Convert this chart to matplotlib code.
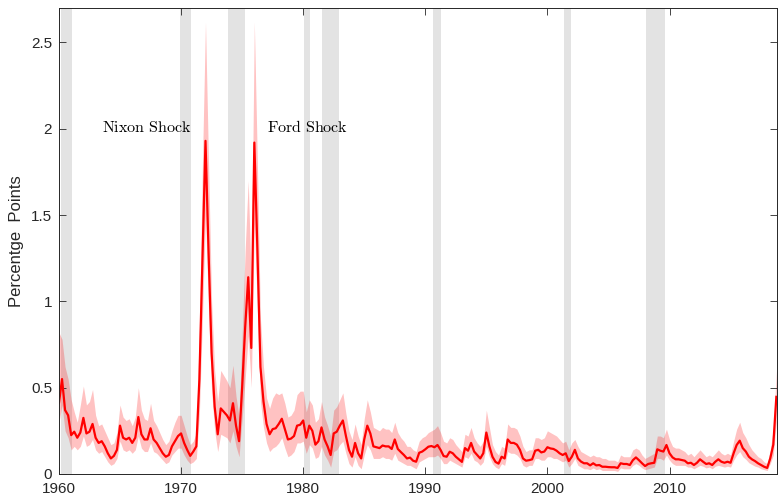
import numpy as np
import matplotlib

matplotlib.use("Agg")
import matplotlib.pyplot as plt

# quarterly observations, 1960Q1 .. 2018Q4
START_YEAR = 1960.0

central = [
    0.41, 0.55, 0.37, 0.34, 0.225, 0.245, 0.21, 0.24, 0.325, 0.235,
    0.245, 0.29, 0.21, 0.18, 0.19, 0.16, 0.12, 0.09, 0.105, 0.14,
    0.28, 0.21, 0.20, 0.21, 0.18, 0.21, 0.33, 0.23, 0.20, 0.20,
    0.265, 0.20, 0.18, 0.15, 0.12, 0.10, 0.11, 0.16, 0.19, 0.22,
    0.235, 0.18, 0.14, 0.105, 0.13, 0.16, 0.55, 1.25, 1.93, 1.29,
    0.70, 0.39, 0.23, 0.38, 0.36, 0.34, 0.31, 0.41, 0.28, 0.19,
    0.50, 0.85, 1.14, 0.73, 1.92, 1.30, 0.62, 0.42, 0.29, 0.23,
    0.26, 0.265, 0.29, 0.32, 0.26, 0.20, 0.205, 0.22, 0.28, 0.285,
    0.31, 0.21, 0.28, 0.25, 0.17, 0.19, 0.27, 0.20, 0.16, 0.11,
    0.235, 0.245, 0.28, 0.31, 0.22, 0.14, 0.10, 0.18, 0.12, 0.09,
    0.20, 0.28, 0.235, 0.16, 0.155, 0.15, 0.165, 0.16, 0.16, 0.145,
    0.20, 0.145, 0.127, 0.11, 0.09, 0.095, 0.077, 0.071, 0.123, 0.13,
    0.143, 0.158, 0.162, 0.155, 0.168, 0.14, 0.104, 0.10, 0.129, 0.12,
    0.10, 0.085, 0.07, 0.15, 0.135, 0.18, 0.13, 0.11, 0.09, 0.12,
    0.24, 0.16, 0.10, 0.07, 0.06, 0.10, 0.09, 0.20, 0.18, 0.18,
    0.17, 0.14, 0.09, 0.077, 0.08, 0.085, 0.135, 0.14, 0.125, 0.13,
    0.155, 0.148, 0.145, 0.135, 0.12, 0.11, 0.12, 0.075, 0.10, 0.14,
    0.09, 0.072, 0.062, 0.062, 0.05, 0.062, 0.05, 0.052, 0.042, 0.042,
    0.04, 0.039, 0.039, 0.035, 0.062, 0.058, 0.058, 0.052, 0.08, 0.096,
    0.08, 0.062, 0.046, 0.058, 0.062, 0.065, 0.143, 0.135, 0.13, 0.168,
    0.12, 0.096, 0.085, 0.085, 0.081, 0.077, 0.062, 0.065, 0.052, 0.065,
    0.085, 0.071, 0.058, 0.062, 0.052, 0.071, 0.085, 0.071, 0.065, 0.071,
    0.065, 0.12, 0.168, 0.193, 0.15, 0.13, 0.10, 0.085, 0.075, 0.062,
    0.052, 0.042, 0.035, 0.09, 0.17, 0.447,
]

upper = [
    0.82, 0.78, 0.62, 0.55, 0.43, 0.36, 0.30, 0.40, 0.51, 0.40,
    0.42, 0.49, 0.34, 0.28, 0.29, 0.25, 0.21, 0.17, 0.18, 0.24,
    0.40, 0.33, 0.31, 0.32, 0.28, 0.33, 0.50, 0.37, 0.32, 0.31,
    0.41, 0.31, 0.28, 0.24, 0.20, 0.17, 0.19, 0.25, 0.30, 0.34,
    0.34, 0.28, 0.22, 0.17, 0.19, 0.24, 0.85, 1.80, 2.62, 1.80,
    1.00, 0.60, 0.42, 0.60, 0.57, 0.54, 0.50, 0.63, 0.45, 0.33,
    0.80, 1.30, 1.70, 1.10, 2.62, 1.80, 0.90, 0.62, 0.44, 0.38,
    0.44, 0.47, 0.46, 0.47, 0.41, 0.33, 0.34, 0.37, 0.46, 0.48,
    0.48, 0.36, 0.43, 0.40, 0.30, 0.32, 0.42, 0.33, 0.28, 0.22,
    0.37, 0.39, 0.43, 0.47, 0.35, 0.25, 0.20, 0.29, 0.22, 0.17,
    0.32, 0.43, 0.36, 0.27, 0.26, 0.25, 0.27, 0.26, 0.26, 0.24,
    0.30, 0.24, 0.21, 0.19, 0.16, 0.16, 0.14, 0.13, 0.19, 0.21,
    0.22, 0.24, 0.25, 0.26, 0.28, 0.24, 0.19, 0.18, 0.21, 0.20,
    0.17, 0.15, 0.13, 0.23, 0.22, 0.27, 0.21, 0.18, 0.16, 0.19,
    0.37, 0.27, 0.17, 0.13, 0.11, 0.16, 0.15, 0.29, 0.27, 0.27,
    0.26, 0.22, 0.16, 0.13, 0.14, 0.14, 0.21, 0.21, 0.20, 0.21,
    0.25, 0.24, 0.23, 0.22, 0.20, 0.18, 0.19, 0.14, 0.18, 0.20,
    0.16, 0.13, 0.12, 0.11, 0.10, 0.11, 0.10, 0.10, 0.09, 0.09,
    0.08, 0.08, 0.08, 0.07, 0.11, 0.10, 0.10, 0.10, 0.14, 0.15,
    0.14, 0.11, 0.09, 0.10, 0.11, 0.12, 0.22, 0.22, 0.21, 0.26,
    0.20, 0.16, 0.15, 0.15, 0.14, 0.13, 0.11, 0.12, 0.10, 0.12,
    0.14, 0.12, 0.10, 0.11, 0.10, 0.12, 0.14, 0.12, 0.11, 0.12,
    0.11, 0.19, 0.26, 0.30, 0.24, 0.21, 0.17, 0.14, 0.12, 0.10,
    0.09, 0.07, 0.06, 0.14, 0.26, 0.60,
]

lower = [
    0.30, 0.40, 0.25, 0.21, 0.14, 0.16, 0.14, 0.16, 0.22, 0.16,
    0.17, 0.20, 0.14, 0.12, 0.13, 0.10, 0.07, 0.05, 0.06, 0.09,
    0.19, 0.14, 0.13, 0.14, 0.12, 0.14, 0.22, 0.15, 0.13, 0.13,
    0.18, 0.13, 0.12, 0.10, 0.08, 0.06, 0.07, 0.11, 0.13, 0.15,
    0.15, 0.11, 0.08, 0.06, 0.07, 0.09, 0.35, 0.90, 1.50, 0.95,
    0.48, 0.25, 0.13, 0.23, 0.22, 0.21, 0.18, 0.25, 0.16, 0.10,
    0.32, 0.55, 0.80, 0.50, 1.45, 0.95, 0.42, 0.27, 0.18, 0.13,
    0.15, 0.16, 0.18, 0.21, 0.15, 0.10, 0.11, 0.13, 0.18, 0.18,
    0.19, 0.12, 0.17, 0.15, 0.09, 0.10, 0.16, 0.11, 0.08, 0.04,
    0.13, 0.14, 0.17, 0.19, 0.12, 0.06, 0.04, 0.10, 0.05, 0.03,
    0.11, 0.17, 0.14, 0.09, 0.09, 0.09, 0.10, 0.09, 0.09, 0.08,
    0.12, 0.08, 0.07, 0.06, 0.05, 0.05, 0.04, 0.03, 0.07, 0.08,
    0.09, 0.10, 0.10, 0.10, 0.11, 0.09, 0.06, 0.06, 0.08, 0.07,
    0.06, 0.05, 0.04, 0.10, 0.09, 0.12, 0.08, 0.07, 0.05, 0.07,
    0.16, 0.10, 0.06, 0.04, 0.03, 0.06, 0.05, 0.13, 0.12, 0.12,
    0.11, 0.09, 0.05, 0.04, 0.05, 0.05, 0.09, 0.09, 0.08, 0.08,
    0.10, 0.10, 0.09, 0.09, 0.08, 0.07, 0.08, 0.04, 0.06, 0.09,
    0.05, 0.04, 0.03, 0.03, 0.025, 0.035, 0.025, 0.03, 0.02, 0.02,
    0.02, 0.02, 0.02, 0.015, 0.035, 0.03, 0.03, 0.03, 0.05, 0.06,
    0.05, 0.035, 0.025, 0.03, 0.035, 0.04, 0.09, 0.09, 0.08, 0.11,
    0.08, 0.06, 0.05, 0.05, 0.05, 0.05, 0.04, 0.04, 0.03, 0.04,
    0.05, 0.045, 0.035, 0.04, 0.03, 0.045, 0.05, 0.045, 0.04, 0.045,
    0.04, 0.08, 0.11, 0.13, 0.10, 0.085, 0.065, 0.055, 0.045, 0.04,
    0.03, 0.025, 0.02, 0.06, 0.11, 0.30,
]

# recession periods (start, end) in fractional years
recessions = [
    (1960.2, 1961.05),
    (1969.95, 1970.85),
    (1973.85, 1975.2),
    (1980.05, 1980.55),
    (1981.55, 1982.9),
    (1990.6, 1991.25),
    (2001.35, 2001.95),
    (2008.1, 2009.6),
]

annotations = [("Nixon Shock", 1963.5, 2.01), ("Ford Shock", 1977.0, 2.01)]

years = START_YEAR + np.arange(len(central)) / 4.0

plt.rcParams["font.family"] = ["Liberation Sans", "DejaVu Sans"]
plt.rcParams["mathtext.fontset"] = "cm"

fig = plt.figure(figsize=(7.8, 4.97), dpi=100)
ax = fig.add_axes([0.0756, 0.0463, 0.9205, 0.9377])

for start, end in recessions:
    ax.axvspan(start, end, color="#e3e3e3", lw=0, zorder=0)

ax.fill_between(years, lower, upper, color="red", alpha=0.24, lw=0, zorder=1)
ax.plot(years, central, color="red", lw=1.6, zorder=2)

for label, x, y in annotations:
    ax.text(x, y, r"$\mathrm{" + label.replace(" ", r"\ ") + "}$",
            fontsize=11.5, va="center", ha="left", color="black")

ax.set_xlim(1960, 2018.8)
ax.set_ylim(0, 2.7)
ax.set_xticks(np.arange(1960, 2011, 10))
ax.set_yticks(np.arange(0, 2.51, 0.5))
ax.yaxis.set_major_formatter(matplotlib.ticker.FormatStrFormatter("%g"))
ax.tick_params(direction="in", length=5, width=0.6, colors="#262626",
               labelsize=11, top=True, right=True)
ax.tick_params(axis="x", pad=6)
ax.tick_params(axis="y", pad=5)
for spine in ax.spines.values():
    spine.set_linewidth(0.7)
    spine.set_color("#262626")
ax.set_ylabel("Percentge  Points", fontsize=12, color="#262626", labelpad=5)

fig.savefig("out.png", dpi=100)
